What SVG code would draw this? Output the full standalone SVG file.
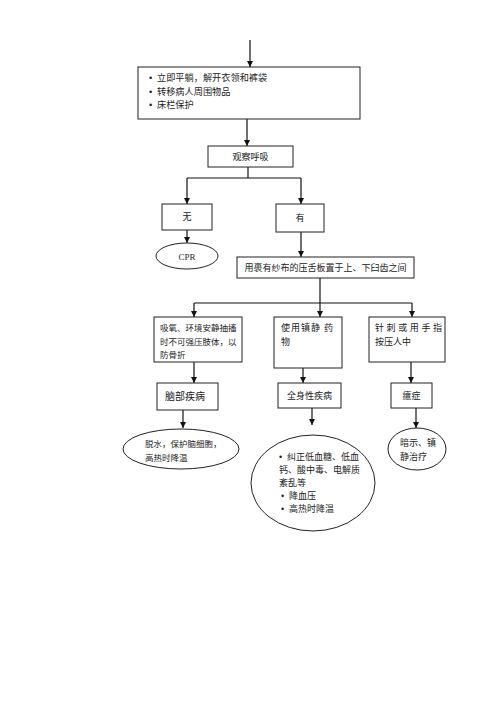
<svg xmlns="http://www.w3.org/2000/svg" width="500" height="707" viewBox="0 0 500 707">
<style>
.bx{fill:#fff;stroke:#222;stroke-width:1}
.ln{fill:none;stroke:#111;stroke-width:1.2}
.t{font-family:"Noto Sans CJK SC","Noto Sans",sans-serif;font-size:9px;fill:#222}
.b{font-family:"Liberation Sans",sans-serif}
.c{text-anchor:middle}
.cpr{font-family:"Liberation Serif",serif;font-size:9px;fill:#222;text-anchor:middle}
</style>
<defs>
<marker id="ah" viewBox="0 0 6 6" refX="6" refY="3" markerWidth="6" markerHeight="6" markerUnits="userSpaceOnUse" orient="auto">
<path d="M0,0 L6,3 L0,6 z" fill="#111"/>
</marker>
</defs>
<rect width="500" height="707" fill="#fff"/>
<g id="connectors">
<line class="ln" x1="250" y1="40" x2="250" y2="67" marker-end="url(#ah)"/>
<line class="ln" x1="247" y1="119" x2="247" y2="146" marker-end="url(#ah)"/>
<polyline class="ln" points="248,167 248,178"/>
<line class="ln" x1="187" y1="178" x2="301" y2="178"/>
<line class="ln" x1="187" y1="178" x2="187" y2="204" marker-end="url(#ah)"/>
<line class="ln" x1="301" y1="178" x2="301" y2="204" marker-end="url(#ah)"/>
<line class="ln" x1="187" y1="230" x2="187" y2="243" marker-end="url(#ah)"/>
<line class="ln" x1="301" y1="232" x2="301" y2="257" marker-end="url(#ah)"/>
<line class="ln" x1="320" y1="278" x2="320" y2="303"/>
<line class="ln" x1="194" y1="303" x2="412" y2="303"/>
<line class="ln" x1="194" y1="303" x2="194" y2="317" marker-end="url(#ah)"/>
<line class="ln" x1="320" y1="303" x2="320" y2="317" marker-end="url(#ah)"/>
<line class="ln" x1="412" y1="303" x2="412" y2="317" marker-end="url(#ah)"/>
<line class="ln" x1="194" y1="362" x2="194" y2="383" marker-end="url(#ah)"/>
<line class="ln" x1="303" y1="368" x2="303" y2="383" marker-end="url(#ah)"/>
<line class="ln" x1="411" y1="362" x2="411" y2="383" marker-end="url(#ah)"/>
<line class="ln" x1="183" y1="410" x2="183" y2="428" marker-end="url(#ah)"/>
<line class="ln" x1="312" y1="408" x2="312" y2="425" marker-end="url(#ah)"/>
<line class="ln" x1="416" y1="408" x2="416" y2="428" marker-end="url(#ah)"/>
</g>
<g id="n-first">
<rect class="bx" x="138" y="67" width="222" height="52"/>
<text class="t" x="149" y="81" style="font-size:9.2px"><tspan class="b">•</tspan><tspan x="157">立即平躺，解开衣领和裤袋</tspan></text>
<text class="t" x="149" y="94.5" style="font-size:9.2px"><tspan class="b">•</tspan><tspan x="157">转移病人周围物品</tspan></text>
<text class="t" x="149" y="108" style="font-size:9.2px"><tspan class="b">•</tspan><tspan x="157">床栏保护</tspan></text>
</g>
<g id="n-observe">
<rect class="bx" x="208" y="146" width="85" height="21"/>
<text class="t c" x="250.5" y="160">观察呼吸</text>
</g>
<g id="n-no">
<rect class="bx" x="162" y="204" width="50" height="26"/>
<text class="t c" x="187" y="220">无</text>
</g>
<g id="n-yes">
<rect class="bx" x="276" y="204" width="48" height="28"/>
<text class="t c" x="300" y="221">有</text>
</g>
<g id="n-cpr">
<ellipse class="bx" cx="187" cy="256" rx="31" ry="13"/>
<text class="cpr" x="187" y="259.5">CPR</text>
</g>
<g id="n-tongue">
<rect class="bx" x="237" y="257" width="177" height="21"/>
<text class="t c" x="325.5" y="271">用裹有纱布的压舌板置于上、下臼齿之间</text>
</g>
<g id="n-oxygen">
<rect class="bx" x="154" y="317" width="88" height="45"/>
<text class="t" x="160" y="331" style="font-size:8.5px">吸氧、环境安静抽搐</text>
<text class="t" x="160" y="345" style="font-size:8.5px">时不可强压肢体，以</text>
<text class="t" x="160" y="358" style="font-size:8.5px">防骨折</text>
</g>
<g id="n-sedative">
<rect class="bx" x="274" y="317" width="68" height="51"/>
<text class="t" x="281" y="331" letter-spacing="1">使用镇静 药</text>
<text class="t" x="281" y="345">物</text>
</g>
<g id="n-acupuncture">
<rect class="bx" x="369" y="317" width="76" height="45"/>
<text class="t" x="375" y="331" letter-spacing="2.6">针刺或用手指</text>
<text class="t" x="375" y="345">按压人中</text>
</g>
<g id="n-brain">
<rect class="bx" x="157" y="383" width="61" height="27"/>
<text class="t" x="165" y="399.5" style="font-size:10px">脑部疾病</text>
</g>
<g id="n-systemic">
<rect class="bx" x="278" y="383" width="63" height="25"/>
<text class="t c" x="309.5" y="399">全身性疾病</text>
</g>
<g id="n-hysteria">
<rect class="bx" x="391" y="383" width="41" height="25"/>
<text class="t c" x="411.5" y="399">癔症</text>
</g>
<g id="n-brain-tx">
<ellipse class="bx" cx="181" cy="449" rx="58" ry="20"/>
<text class="t" x="145" y="447" style="font-size:8.5px">脱水，保护脑细胞，</text>
<text class="t" x="145" y="461" style="font-size:8.5px">高热时降温</text>
</g>
<g id="n-systemic-tx">
<ellipse class="bx" cx="313" cy="483" rx="62" ry="48"/>
<text class="t" x="279" y="460"><tspan class="b">•</tspan><tspan x="287">纠正低血糖、低血</tspan></text>
<text class="t" x="279" y="473">钙、酸中毒、电解质</text>
<text class="t" x="279" y="486">紊乱等</text>
<text class="t" x="281" y="499"><tspan class="b">•</tspan><tspan x="289">降血压</tspan></text>
<text class="t" x="281" y="512"><tspan class="b">•</tspan><tspan x="289">高热时降温</tspan></text>
</g>
<g id="n-hysteria-tx">
<ellipse class="bx" cx="417" cy="449" rx="29" ry="21"/>
<text class="t" x="400" y="446">暗示、镇</text>
<text class="t" x="400" y="460">静治疗</text>
</g>
</svg>
